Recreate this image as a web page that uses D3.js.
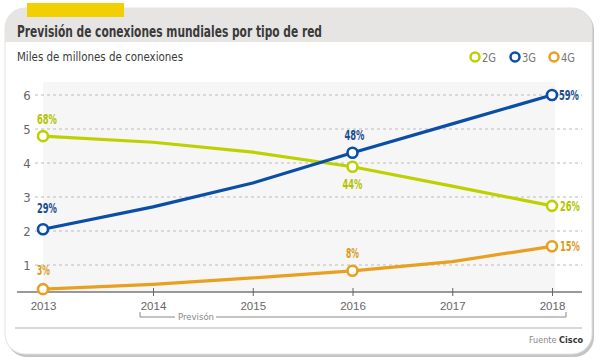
<!DOCTYPE html>
<html><head><meta charset="utf-8">
<script src="https://cdn.jsdelivr.net/npm/d3@7"></script>
<style>
body{margin:0;background:#fff;}
svg{display:block;font-family:"DejaVu Sans Condensed","Liberation Sans Narrow","Roboto",sans-serif;}
</style></head>
<body>
<svg id="c" width="600" height="363"></svg>
<script>
const years = [2013, 2014, 2015, 2016, 2017, 2018];
const yTicks = [1, 2, 3, 4, 5, 6];
const series2G = [4.79, 4.61, 4.32, 3.89, 3.32, 2.74];
const series3G = [2.05, 2.71, 3.41, 4.30, 5.15, 6.0];
const series4G = [0.29, 0.43, 0.62, 0.83, 1.10, 1.55];
const seriesNames = ["2G", "3G", "4G"];
const labels2G = [[2013, "68%"], [2016, "44%"], [2018, "26%"]];
const labels3G = [[2013, "29%"], [2016, "48%"], [2018, "59%"]];
const labels4G = [[2013, "3%"], [2016, "8%"], [2018, "15%"]];
const markerYears = [2013, 2016, 2018];

const colors = {"2G": "#bed000", "3G": "#0a4ea6", "4G": "#e8a020"};
const labelColors = {"2G": "#b3c300", "3G": "#1b4e8e", "4G": "#dc9a1c"};

const svg = d3.select("#c");
const x = d3.scaleLinear().domain([2013, 2014, 2018]).range([43, 153, 552]);
const y = d3.scaleLinear().domain([0, 6]).range([299, 95]);
const axisY = 292;

// card
svg.append("defs").append("clipPath").attr("id","card")
  .append("rect").attr("x",5).attr("y",8).attr("width",587).attr("height",346).attr("rx",20);
svg.append("rect").attr("x",7).attr("y",10).attr("width",587).attr("height",347).attr("rx",20).attr("fill","#c4c4c4");
svg.append("rect").attr("x",5).attr("y",8).attr("width",587).attr("height",346).attr("rx",20).attr("fill","#fff").attr("stroke","#e2e2e2");
svg.append("rect").attr("clip-path","url(#card)").attr("x",0).attr("y",0).attr("width",600).attr("height",42).attr("fill","#e7e5e3");
svg.append("rect").attr("x",27).attr("y",3).attr("width",97).attr("height",14).attr("fill","#f1cf00");

svg.append("text").attr("x",17).attr("y",37).attr("font-size",16.5).attr("font-weight","bold").attr("fill","#3a3a3a")
  .attr("textLength",305).attr("lengthAdjust","spacingAndGlyphs")
  .text("Previsión de conexiones mundiales por tipo de red");
svg.append("text").attr("x",17).attr("y",61).attr("font-size",12).attr("fill","#3a3a3a")
  .attr("textLength",166).attr("lengthAdjust","spacingAndGlyphs")
  .text("Miles de millones de conexiones");

// legend
const legX = [475, 515, 554];
seriesNames.forEach((s,i)=>{
  svg.append("circle").attr("cx",legX[i]).attr("cy",57).attr("r",4.5).attr("fill","#fff").attr("stroke",colors[s]).attr("stroke-width",2.5);
  svg.append("text").attr("x",legX[i]+7).attr("y",61.5).attr("font-size",12).attr("fill","#777")
    .attr("textLength",14).attr("lengthAdjust","spacingAndGlyphs").text(s);
});

// plot background
svg.append("rect").attr("x",x(2013)).attr("y",82).attr("width",555-x(2013)).attr("height",axisY-82).attr("fill","#f6f6f6");

// gridlines
const grid = svg.append("g");
grid.selectAll("line").data(yTicks).join("line")
  .attr("x1",35).attr("x2",582).attr("y1",d=>y(d)).attr("y2",d=>y(d))
  .attr("stroke","#bcbcbc").attr("stroke-dasharray","3,3").attr("stroke-width",1);
grid.selectAll("text").data(yTicks).join("text")
  .attr("x",27).attr("y",d=>y(d)+4.5).attr("text-anchor","middle").attr("font-size",13).attr("fill","#666").text(d=>d);

// x axis
const xa = svg.append("g").attr("transform",`translate(0,${axisY})`)
  .call(d3.axisBottom(x).tickValues(years).tickFormat(d3.format("d")).tickSize(4).tickPadding(6));
xa.select(".domain").remove();
xa.insert("line",":first-child").attr("x1",17).attr("x2",582).attr("stroke","#777").attr("stroke-width",1.3);
xa.selectAll(".tick line").attr("y1",-4).attr("y2",4).attr("stroke","#666");
xa.selectAll(".tick text").attr("font-size",11.5).attr("fill","#666").attr("font-family","inherit");
xa.selectAll(".tick").filter(d=>d===2013).select("line").remove();

// bracket
const bY = 317;
const b = svg.append("g").attr("stroke","#888").attr("stroke-width",1).attr("fill","none");
b.append("path").attr("d",`M${x(2014)-13},${bY-5}V${bY}H175`);
b.append("path").attr("d",`M216,${bY}H${x(2018)+14}V${bY-5}`);
svg.append("text").attr("x",196).attr("y",bY+3).attr("text-anchor","middle").attr("font-size",9.5).attr("fill","#888").text("Previsón");

// separator + source
svg.append("line").attr("x1",15).attr("x2",582).attr("y1",328).attr("y2",328).attr("stroke","#d8d8d8").attr("stroke-width",2);
const src = svg.append("text").attr("x",583).attr("y",343).attr("text-anchor","end").attr("font-size",9);
src.append("tspan").attr("fill","#888").text("Fuente ");
src.append("tspan").attr("fill","#333").attr("font-weight","bold").text("Cisco");

// lines
const data = {"2G": series2G, "3G": series3G, "4G": series4G};
const line = d3.line().x((d,i)=>x(years[i])).y(d=>y(d));
["4G","2G","3G"].forEach(s=>{
  svg.append("path").datum(data[s]).attr("d",line).attr("fill","none")
    .attr("stroke",colors[s]).attr("stroke-width",3.2).attr("stroke-linejoin","round");
});
["4G","2G","3G"].forEach(s=>{
  svg.selectAll(null).data(markerYears).join("circle")
    .attr("cx",d=>x(d)).attr("cy",d=>y(data[s][years.indexOf(d)]))
    .attr("r",5).attr("fill","#fff").attr("stroke",colors[s]).attr("stroke-width",2.6);
});

// labels
function lab(s, arr, pos){
  arr.forEach(([yr,t],k)=>{
    const p = pos[k];
    const v = data[s][years.indexOf(yr)];
    svg.append("text").attr("x",x(yr)+p[0]).attr("y",y(v)+p[1])
      .attr("text-anchor",p[2]).attr("font-size",14).attr("font-weight","bold")
      .attr("fill",labelColors[s]).attr("textLength",t.length===3?20:13).attr("lengthAdjust","spacingAndGlyphs").text(t);
  });
}
lab("2G", labels2G, [[-6,-12,"start"],[0,22,"middle"],[8,5,"start"]]);
lab("3G", labels3G, [[-6,-16,"start"],[2,-13,"middle"],[7,5,"start"]]);
lab("4G", labels4G, [[-6,-14,"start"],[0,-13,"middle"],[8,5,"start"]]);
</script>
</body></html>
